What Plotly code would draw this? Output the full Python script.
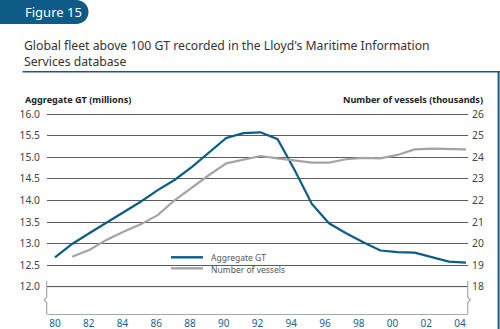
import plotly.graph_objects as go

# ---------------- data ----------------
years = list(range(1980, 2005))
aggregate_gt = [12.68, 12.99, 13.24, 13.48, 13.74, 13.97, 14.24, 14.48, 14.78, 15.12,
                15.45, 15.56, 15.58, 15.42, 14.70, 13.92, 13.47, 13.24, 13.03, 12.84,
                12.80, 12.79, 12.69, 12.58, 12.56]
vessel_years = list(range(1981, 2005))
vessels = [19.39, 19.70, 20.17, 20.55, 20.89, 21.32, 22.02, 22.61, 23.18, 23.72,
           23.90, 24.06, 23.95, 23.84, 23.75, 23.75, 23.91, 23.97, 23.95, 24.11,
           24.37, 24.40, 24.37, 24.37]
label_years = list(range(1980, 2005, 2))
x_tick_text = ["80", "82", "84", "86", "88", "90", "92", "94", "96", "98", "00", "02", "04"]
left_ticks = [12.0, 12.5, 13.0, 13.5, 14.0, 14.5, 15.0, 15.5, 16.0]
right_ticks = [18, 19, 20, 21, 22, 23, 24, 25, 26]

# ---------------- style ----------------
W, H = 500, 329
ML, MR, MT, MB = 47, 32, 110, 15
PW, PH = W - ML - MR, H - MT - MB
BLUE = "#0b5d88"
TAB = "#0d5b86"
GRAY = "#a4a4a4"
FRAME = "#a8a8a8"
GRID = "#5c5c5c"
FONT = "Noto Sans"


def X(px):
    return (px - ML) / PW


def Y(py):
    return (H - MB - py) / PH


fig = go.Figure()
fig.add_trace(go.Scatter(x=years, y=aggregate_gt, name="Aggregate GT", mode="lines",
                         line=dict(color=BLUE, width=2.2), xaxis="x", yaxis="y",
                         showlegend=False))
fig.add_trace(go.Scatter(x=vessel_years, y=vessels, name="Number of vessels", mode="lines",
                         line=dict(color=GRAY, width=2.2), xaxis="x", yaxis="y2",
                         showlegend=False))
# carrier for the label axis
fig.add_trace(go.Scatter(x=[label_years[0]], y=[None], xaxis="x2", yaxis="y",
                         showlegend=False, hoverinfo="skip"))

shapes = []
shapes.append(dict(type="line", xref="paper", yref="y", x0=0, x1=1, y0=12.0, y1=12.0,
                   line=dict(color=FRAME, width=1.3), layer="between"))
shapes.append(dict(type="path", xref="paper", yref="paper",
                   path=f"M {X(46.7)},{Y(281)} L {X(46.7)},{Y(297)} L {X(44.2)},{Y(299.8)} "
                        f"L {X(46.7)},{Y(302.5)} L {X(46.7)},{Y(314)}",
                   line=dict(color=FRAME, width=1.2), layer="above"))
shapes.append(dict(type="path", xref="paper", yref="paper",
                   path=f"M {X(467.7)},{Y(281)} L {X(467.7)},{Y(297)} L {X(470.2)},{Y(299.8)} "
                        f"L {X(467.7)},{Y(302.5)} L {X(467.7)},{Y(314)}",
                   line=dict(color=FRAME, width=1.2), layer="above"))
shapes.append(dict(type="rect", xref="paper", yref="paper", x0=X(164), x1=X(286),
                   y0=Y(277), y1=Y(250), fillcolor="white", line=dict(width=0), layer="between"))
shapes.append(dict(type="line", xref="paper", yref="paper", x0=X(171), x1=X(203),
                   y0=Y(257.3), y1=Y(257.3), line=dict(color=BLUE, width=2.4), layer="above"))
shapes.append(dict(type="line", xref="paper", yref="paper", x0=X(171), x1=X(203),
                   y0=Y(268.3), y1=Y(268.3), line=dict(color=GRAY, width=2.4), layer="above"))
shapes.append(dict(type="path", xref="paper", yref="paper",
                   path=f"M {X(0)},{Y(0)} L {X(76)},{Y(0)} C {X(83)},{Y(0)} {X(88.5)},{Y(5)} {X(88.5)},{Y(12)} "
                        f"C {X(88.5)},{Y(19)} {X(83)},{Y(24)} {X(76)},{Y(24)} L {X(0)},{Y(24)} Z",
                   fillcolor=TAB, line=dict(width=0), layer="above"))
shapes.append(dict(type="line", xref="paper", yref="paper", x0=X(22.7), x1=X(500),
                   y0=Y(71.8), y1=Y(71.8), line=dict(color=BLUE, width=1.6), layer="above"))
shapes.append(dict(type="line", xref="paper", yref="paper", x0=X(498.6), x1=X(498.6),
                   y0=Y(71.8), y1=Y(330), line=dict(color=BLUE, width=2), layer="above"))

annotations = [
    dict(text="Figure 15", x=X(23), y=Y(12.5), xref="paper", yref="paper", xanchor="left",
         yanchor="middle", showarrow=False, font=dict(family=FONT, size=13, color="white")),
    dict(text="Global fleet above 100 GT recorded in the Lloyd's Maritime Information<br>Services database",
         x=X(22), y=Y(34.5), xref="paper", yref="paper", xanchor="left", yanchor="top",
         align="left", showarrow=False, font=dict(family=FONT, size=12.2, color="#333333")),
    dict(text="<b>Aggregate GT (millions)</b>", x=X(22.5), y=Y(100), xref="paper", yref="paper",
         xanchor="left", yanchor="middle", showarrow=False,
         font=dict(family=FONT, size=9.1, color="#222222")),
    dict(text="<b>Number of vessels (thousands)</b>", x=X(484.5), y=Y(100), xref="paper", yref="paper",
         xanchor="right", yanchor="middle", showarrow=False,
         font=dict(family=FONT, size=9.1, color="#222222")),
    dict(text="Aggregate GT", x=X(209), y=Y(257), xref="paper", yref="paper",
         xanchor="left", yanchor="middle", showarrow=False,
         font=dict(family=FONT, size=8.5, color="#555555")),
    dict(text="Number of vessels", x=X(209), y=Y(269), xref="paper", yref="paper",
         xanchor="left", yanchor="middle", showarrow=False,
         font=dict(family=FONT, size=8.5, color="#555555")),
]

fig.update_layout(
    template="none",
    width=W, height=H,
    margin=dict(l=ML, r=MR, t=MT, b=MB, pad=0, autoexpand=False),
    paper_bgcolor="white", plot_bgcolor="white",
    font=dict(family=FONT),
    showlegend=False,
    xaxis=dict(range=[1979.533, 2004.117], showticklabels=False, showgrid=False, automargin=False,
               zeroline=False, showline=True, linecolor=FRAME, linewidth=1.2, ticks=""),
    xaxis2=dict(overlaying="x", side="bottom", anchor="y", range=[1979.526, 2004.474],
                automargin=False, tickvals=label_years, ticktext=x_tick_text, showgrid=False,
                zeroline=False, showline=False, ticks="", ticklabelstandoff=2,
                tickfont=dict(family=FONT, size=10, color="#1a6192")),
    yaxis=dict(range=[11.367, 16.097], tickvals=left_ticks, automargin=False,
               ticktext=[f"{v:.1f}" for v in left_ticks], showgrid=True, gridcolor=GRID,
               gridwidth=1, zeroline=False, showline=False, ticks="",
               ticklabelstandoff=6, tickfont=dict(family=FONT, size=10.3, color="#444444")),
    yaxis2=dict(overlaying="y", side="right", anchor="x", range=[16.734, 26.194], automargin=False,
                tickvals=right_ticks, ticktext=[str(v) for v in right_ticks], showgrid=False,
                zeroline=False, showline=False, ticks="", ticklabelstandoff=3,
                tickfont=dict(family=FONT, size=10.3, color="#444444")),
    shapes=shapes,
    annotations=annotations,
)

fig.write_html("out.html")
